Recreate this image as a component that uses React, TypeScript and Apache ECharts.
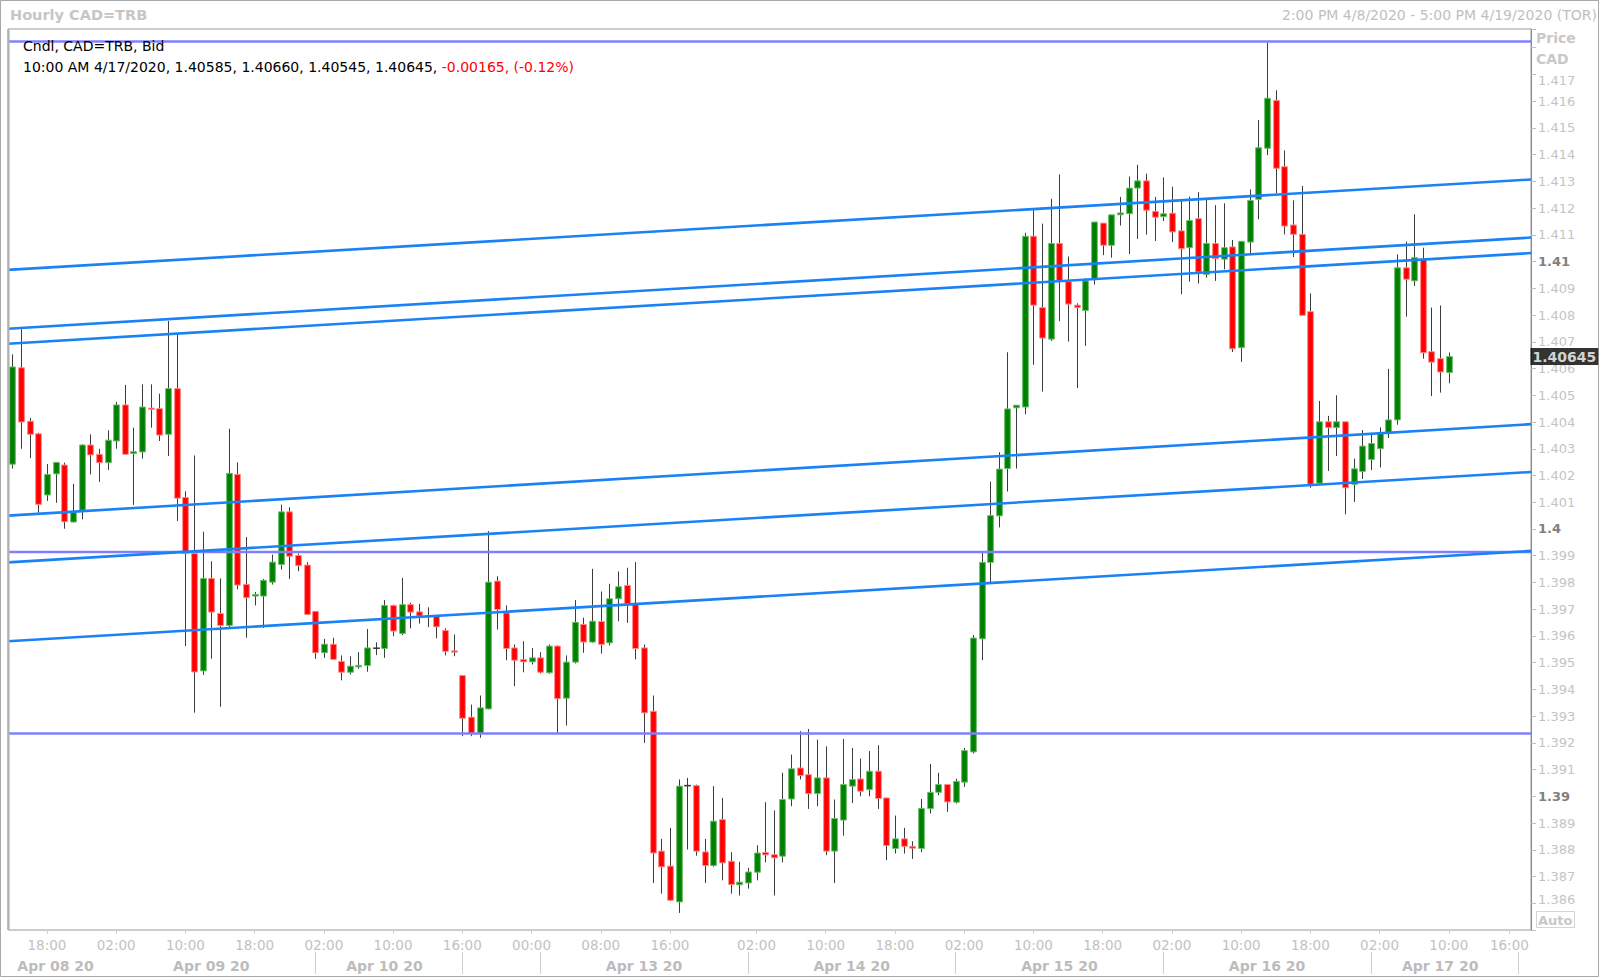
import React, { useEffect, useRef } from 'react';
import * as echarts from 'echarts';

const FONT = '"DejaVu Sans", Verdana, sans-serif';

// ---- candle data (hourly, CAD=TRB bid) ----
const candleOpen = [1.40242,1.40603,1.40403,1.40356,1.40127,1.40206,1.40239,1.40026,1.40070,1.40314,
1.40279,1.40248,1.40329,1.40464,1.40282,1.40288,1.40452,1.40450,1.40354,1.40525,
1.40118,1.39908,1.39469,1.39815,1.39684,1.39639,1.40204,1.39793,1.39749,1.39749,
1.39801,1.39867,1.40064,1.39901,1.39865,1.39692,1.39537,1.39569,1.39505,1.39464,
1.39484,1.39489,1.39554,1.39553,1.39714,1.39609,1.39717,1.39690,1.39676,1.39674,
1.39620,1.39544,1.39452,1.39296,1.39235,1.39327,1.39805,1.39686,1.39555,1.39512,
1.39503,1.39518,1.39462,1.39562,1.39367,1.39502,1.39643,1.39577,1.39654,1.39574,
1.39739,1.39789,1.39721,1.39555,1.39318,1.38795,1.38739,1.38605,1.39040,1.39040,
1.38792,1.38741,1.38913,1.38757,1.38669,1.38676,1.38716,1.38790,1.38782,1.38776,
1.38990,1.39106,1.39081,1.39010,1.39069,1.38795,1.38911,1.39038,1.39065,1.39025,
1.39094,1.38994,1.38805,1.38841,1.38813,1.38805,1.38954,1.39015,1.39044,1.38978,
1.39053,1.39166,1.39589,1.39875,1.40049,1.40226,1.40453,1.40456,1.41095,1.40828,
1.40710,1.41068,1.40925,1.40837,1.40817,1.40934,1.41144,1.41061,1.41175,1.41179,
1.41275,1.41302,1.41188,1.41168,1.41181,1.41115,1.41052,1.41161,1.40952,1.41068,
1.41009,1.41055,1.40678,1.41073,1.41233,1.41424,1.41603,1.41355,1.41137,1.41102,
1.40813,1.40171,1.40401,1.40379,1.40401,1.40167,1.40215,1.40260,1.40300,1.40360,
1.40408,1.40977,1.40928,1.41009,1.40663,1.40637,1.40585];

const candleHigh = [1.40653,1.40747,1.40415,1.40360,1.40243,1.40249,1.40248,1.40169,1.40317,1.40354,
1.40300,1.40369,1.40475,1.40539,1.40379,1.40541,1.40541,1.40506,1.40778,1.40728,
1.40141,1.40275,1.39990,1.39879,1.39815,1.40375,1.40249,1.39970,1.39764,1.39813,
1.39904,1.40091,1.40081,1.39908,1.39876,1.39692,1.39589,1.39593,1.39527,1.39524,
1.39539,1.39626,1.39576,1.39734,1.39717,1.39817,1.39724,1.39720,1.39707,1.39674,
1.39628,1.39605,1.39452,1.39343,1.39377,1.39992,1.39823,1.39714,1.39568,1.39580,
1.39555,1.39539,1.39568,1.39564,1.39527,1.39734,1.39668,1.39851,1.39766,1.39795,
1.39841,1.39855,1.39876,1.39568,1.39377,1.38841,1.38882,1.39063,1.39069,1.39044,
1.38841,1.39038,1.38994,1.38791,1.38755,1.38732,1.38817,1.38978,1.38947,1.39088,
1.39156,1.39244,1.39252,1.39212,1.39187,1.38988,1.39215,1.39181,1.39141,1.39169,
1.39191,1.38994,1.38928,1.38882,1.38832,1.38990,1.39121,1.39088,1.39044,1.39066,
1.39181,1.39603,1.39912,1.40177,1.40287,1.40661,1.40463,1.41108,1.41195,1.41142,
1.41235,1.41326,1.41019,1.40844,1.40938,1.41148,1.41144,1.41175,1.41242,1.41318,
1.41362,1.41329,1.41242,1.41315,1.41280,1.41227,1.41243,1.41260,1.41233,1.41211,
1.41218,1.41081,1.41076,1.41270,1.41530,1.41819,1.41641,1.41416,1.41229,1.41283,
1.40881,1.40479,1.40423,1.40500,1.40401,1.40263,1.40370,1.40360,1.40380,1.40599,
1.41027,1.41075,1.41177,1.41052,1.40828,1.40836,1.40660];

const candleLow = [1.40226,1.40300,1.40265,1.40061,1.40105,1.40098,1.40001,1.40024,1.40036,1.40204,
1.40176,1.40221,1.40300,1.40279,1.40090,1.40263,1.40379,1.40329,1.40273,1.40030,
1.39562,1.39313,1.39454,1.39515,1.39335,1.39631,1.39774,1.39593,1.39714,1.39630,
1.39792,1.39848,1.39813,1.39842,1.39680,1.39514,1.39518,1.39512,1.39434,1.39456,
1.39477,1.39466,1.39528,1.39518,1.39599,1.39603,1.39628,1.39646,1.39633,1.39591,
1.39527,1.39524,1.39225,1.39225,1.39219,1.39325,1.39624,1.39509,1.39412,1.39464,
1.39493,1.39459,1.39459,1.39237,1.39265,1.39497,1.39537,1.39574,1.39534,1.39564,
1.39655,1.39649,1.39512,1.39200,1.38676,1.38636,1.38608,1.38564,1.38801,1.38778,
1.38676,1.38736,1.38686,1.38636,1.38629,1.38655,1.38686,1.38753,1.38629,1.38753,
1.38963,1.39063,1.38953,1.38963,1.38780,1.38676,1.38853,1.38975,1.39000,1.39000,
1.38953,1.38761,1.38786,1.38786,1.38766,1.38791,1.38936,1.39004,1.38942,1.38973,
1.39035,1.39160,1.39509,1.39799,1.40006,1.40140,1.40226,1.40429,1.40614,1.40514,
1.40703,1.40777,1.40701,1.40527,1.40685,1.40914,1.41024,1.41015,1.41135,1.41028,
1.41085,1.41101,1.41077,1.41152,1.41073,1.40878,1.40925,1.40918,1.40940,1.40928,
1.40971,1.40662,1.40625,1.41024,1.41158,1.41398,1.41256,1.41102,1.41017,1.40799,
1.40154,1.40167,1.40217,1.40273,1.40055,1.40101,1.40187,1.40220,1.40230,1.40340,
1.40390,1.40794,1.40909,1.40637,1.40497,1.40510,1.40545];

const candleClose = [1.40606,1.40400,1.40354,1.40092,1.40204,1.40249,1.40027,1.40061,1.40314,1.40277,
1.40248,1.40332,1.40464,1.40279,1.40289,1.40456,1.40447,1.40351,1.40525,1.40115,
1.39908,1.39465,1.39815,1.39689,1.39639,1.40208,1.39790,1.39743,1.39755,1.39808,
1.39876,1.40064,1.39898,1.39863,1.39680,1.39537,1.39569,1.39512,1.39464,1.39487,
1.39490,1.39555,1.39554,1.39714,1.39618,1.39717,1.39689,1.39674,1.39671,1.39634,
1.39542,1.39539,1.39292,1.39235,1.39331,1.39801,1.39699,1.39553,1.39509,1.39503,
1.39518,1.39464,1.39562,1.39365,1.39502,1.39651,1.39577,1.39655,1.39568,1.39739,
1.39784,1.39721,1.39553,1.39312,1.38788,1.38736,1.38611,1.39038,1.39040,1.38795,
1.38741,1.38907,1.38751,1.38670,1.38679,1.38717,1.38788,1.38781,1.38770,1.38988,
1.39103,1.39078,1.39010,1.39069,1.38795,1.38917,1.39044,1.39063,1.39019,1.39094,
1.38992,1.38816,1.38841,1.38813,1.38806,1.38955,1.39015,1.39044,1.38979,1.39056,
1.39171,1.39592,1.39875,1.40050,1.40224,1.40449,1.40463,1.41095,1.40837,1.40714,
1.41068,1.40928,1.40841,1.40828,1.40928,1.41148,1.41061,1.41175,1.41182,1.41275,
1.41302,1.41192,1.41166,1.41179,1.41111,1.41048,1.41154,1.40961,1.41068,1.41011,
1.41052,1.40674,1.41076,1.41229,1.41426,1.41611,1.41349,1.41133,1.41102,1.40799,
1.40167,1.40401,1.40379,1.40401,1.40154,1.40225,1.40310,1.40320,1.40360,1.40408,
1.40977,1.40934,1.41015,1.40659,1.40624,1.40587,1.40645];

// ---- time axis ----
const slotCount = 176; // hourly slots on the axis (incl. empty future slots)
const timeTickIndex = [4,12,20,28,36,44,52,60,68,76,86,94,102,110,118,126,134,142,150,158,166,173];
const timeTickText = ['18:00','02:00','10:00','18:00','02:00','10:00','16:00','00:00','08:00','16:00','02:00','10:00','18:00','02:00','10:00','18:00','02:00','10:00','18:00','02:00','10:00','16:00'];
const dateLabelIndex = [5,23,43,73,97,121,145,165];
const dateLabelText = ['Apr 08 20','Apr 09 20','Apr 10 20','Apr 13 20','Apr 14 20','Apr 15 20','Apr 16 20','Apr 17 20'];
const dateSeparatorIndex = [35,52,61,85,109,133,157,174];

// ---- drawn studies ----
const trendStartPrice = [1.40969,1.40749,1.40693,1.40050,1.39875,1.39580];
const trendEndPrice = [1.41307,1.41090,1.41032,1.40392,1.40213,1.39918];
const levelPrice = [1.41823,1.39914,1.39235];

// ---- price axis ----
const yMin = 1.385;
const yMax = 1.4187;
const yStep = 0.001;
const yLabelLow = 1.386;
const yLabelHigh = 1.417;
const boldPriceLabels = ['1.41','1.4','1.39'];

const lastTimeText = '10:00 AM 4/17/2020';
const lastChangeText = '-0.00165, (-0.12%)';

const slotIds = Array.from({ length: slotCount }, (_, i) => 's' + i);
const timeLabelMap: Record<number, string> = {};
timeTickIndex.forEach((idx, k) => { timeLabelMap[idx] = timeTickText[k]; });
const dateLabelMap: Record<number, string> = {};
dateLabelIndex.forEach((idx, k) => { dateLabelMap[idx] = dateLabelText[k]; });
const sepSet = new Set(dateSeparatorIndex);

export default function App() {
  const ref = useRef<HTMLDivElement>(null);
  useEffect(() => {
    if (!ref.current) return;
    const chart = echarts.init(ref.current, undefined, { renderer: 'svg' });
    const n = candleOpen.length;
    const candleData = candleOpen.map((o, i) => [i, o, candleClose[i], candleLow[i], candleHigh[i]]);
    const last = n - 1;
    const infoLine = `${lastTimeText}, ${candleOpen[last].toFixed(5)}, ${candleHigh[last].toFixed(5)}, ${candleLow[last].toFixed(5)}, ${candleClose[last].toFixed(5)}, `;

    const trendSeries = trendStartPrice.map((p, k) => ({
      type: 'line',
      xAxisIndex: 1,
      yAxisIndex: 0,
      data: [[-0.5, p], [slotCount - 0.5, trendEndPrice[k]]],
      symbol: 'none',
      silent: true,
      lineStyle: { color: '#1982f6', width: 2.6 },
      z: 4,
    }));
    const levelSeries: any[] = levelPrice.map((p) => ({
      type: 'line',
      xAxisIndex: 1,
      yAxisIndex: 0,
      data: [[-0.5, p], [slotCount - 0.5, p]],
      symbol: 'none',
      silent: true,
      lineStyle: { color: '#8080ff', width: 2.6 },
      z: 4,
    }));

    // last-close price tag: a point series placed at the last close, label drawn to the right of the plot
    const lastTagSeries = {
      type: 'scatter',
      xAxisIndex: 1,
      yAxisIndex: 0,
      data: [[slotCount - 0.5, candleClose[last]]],
      symbolSize: 1,
      itemStyle: { color: 'rgba(0,0,0,0)' },
      silent: true,
      clip: false,
      z: 10,
      label: {
        show: true, position: 'right', distance: -1,
        formatter: () => candleClose[last].toFixed(5),
        backgroundColor: '#000', color: '#fff', fontWeight: 'bold', fontSize: 14, fontFamily: FONT,
        padding: [2, 2, 1, 2],
      },
    };

    const option: any = {
      animation: false,
      backgroundColor: '#ffffff',
      textStyle: { fontFamily: FONT },
      title: [
        { text: 'Hourly CAD=TRB', left: 10, top: 6, padding: 0,
          textStyle: { fontFamily: FONT, fontSize: 14.5, fontWeight: 'bold', color: '#c6c6c6', lineHeight: 18 } },
        { text: '2:00 PM 4/8/2020 - 5:00 PM 4/19/2020 (TOR)', right: 3, top: 6, padding: 0,
          textStyle: { fontFamily: FONT, fontSize: 14, fontWeight: 'normal', color: '#c0c0c0', lineHeight: 18 } },
        { text: 'Cndl, CAD=TRB, Bid', left: 23, top: 37, padding: 0,
          textStyle: { fontFamily: FONT, fontSize: 14, fontWeight: 'normal', color: '#000', lineHeight: 18 } },
        { text: `{k|${infoLine}}{r|${lastChangeText}}`, left: 23, top: 58, padding: 0,
          textStyle: { fontFamily: FONT, fontSize: 14, fontWeight: 'normal', lineHeight: 18,
            rich: { k: { color: '#000', fontFamily: FONT, fontSize: 14 }, r: { color: '#ff0000', fontFamily: FONT, fontSize: 14 } } } },
        { text: 'Price', left: 1536, top: 29, padding: 0,
          textStyle: { fontFamily: FONT, fontSize: 14, fontWeight: 'bold', color: '#c8c8c8', lineHeight: 18 } },
        { text: 'CAD', left: 1536, top: 50, padding: 0,
          textStyle: { fontFamily: FONT, fontSize: 14, fontWeight: 'bold', color: '#c8c8c8', lineHeight: 18 } },
        { text: 'Auto', left: 1536, top: 911, padding: [1, 2, 0, 2], borderColor: '#d4d4d4', borderWidth: 1,
          textStyle: { fontFamily: FONT, fontSize: 13, fontWeight: 'bold', color: '#c8c8c8', lineHeight: 16 } },
      ],
      graphic: [
        { type: 'rect', shape: { x: 0.5, y: 0.5, width: 1598, height: 976 }, style: { fill: 'none', stroke: '#a8a8a8', lineWidth: 1 }, silent: true, z: -10 },
        { type: 'line', shape: { x1: 8.5, y1: 29, x2: 8.5, y2: 930 }, style: { stroke: '#b0b0b0', lineWidth: 2 }, silent: true, z: 20 },
      ],
      grid: { left: 8, right: 69, top: 29, bottom: 48, show: true, borderColor: '#9a9a9a', borderWidth: 1 },
      xAxis: [
        {
          type: 'category', data: slotIds, boundaryGap: true, position: 'bottom',
          axisLine: { show: false, onZero: false },
          axisTick: { show: true, alignWithLabel: true, length: 4, interval: (i: number) => timeLabelMap[i] !== undefined, lineStyle: { color: '#d0d0d0' } },
          axisLabel: { interval: (i: number) => timeLabelMap[i] !== undefined, formatter: (_v: string, i: number) => timeLabelMap[i] ?? '',
            color: '#c2c2c2', fontSize: 13.5, fontFamily: FONT, margin: 8 },
          splitLine: { show: false },
        },
        { type: 'value', min: -0.5, max: slotCount - 0.5, show: false, axisLine: { onZero: false } },
        {
          type: 'category', data: slotIds, boundaryGap: true, position: 'bottom', offset: 22,
          axisLine: { show: false, onZero: false },
          axisTick: { show: true, alignWithLabel: true, length: 22, interval: (i: number) => sepSet.has(i), lineStyle: { color: '#d0d0d0' } },
          axisLabel: { interval: (i: number) => dateLabelMap[i] !== undefined, formatter: (_v: string, i: number) => dateLabelMap[i] ?? '',
            color: '#bcbcbc', fontSize: 14, fontWeight: 'bold', fontFamily: FONT, margin: 7 },
          splitLine: { show: false },
        },
      ],
      yAxis: [{
        type: 'value', position: 'right', min: yMin, max: yMax, interval: yStep,
        axisLine: { show: true, onZero: false, lineStyle: { color: '#8a8a8a', width: 1 } },
        axisTick: { show: true, length: 5, lineStyle: { color: '#bdbdbd' } },
        splitLine: { show: false },
        axisLabel: {
          margin: 7, fontSize: 13, color: '#c4c4c4', fontFamily: FONT,
          formatter: (v: number) => {
            if (v < yLabelLow - 1e-7 || v > yLabelHigh + 1e-7) return '';
            const s = String(parseFloat(v.toFixed(3)));
            if (Math.abs(v - yLabelHigh) < 1e-7) return `{t|${s}}`;
            if (Math.abs(v - yLabelLow) < 1e-7) return `{l|${s}}`;
            return boldPriceLabels.includes(s) ? `{b|${s}}` : s;
          },
          rich: {
            b: { fontWeight: 'bold', color: '#808080', fontSize: 13, fontFamily: FONT },
            t: { color: '#c4c4c4', fontSize: 13, fontFamily: FONT, padding: [12, 0, 0, 0] },
            l: { color: '#c4c4c4', fontSize: 13, fontFamily: FONT, padding: [0, 0, 7, 0] },
          },
        },
      }],
      series: [
        {
          type: 'custom',
          xAxisIndex: 1,
          yAxisIndex: 0,
          data: candleData,
          encode: { x: 0, y: [1, 2, 3, 4] },
          clip: true,
          silent: true,
          z: 2,
          renderItem: (_params: any, api: any) => {
            const x = api.value(0);
            const o = api.value(1), c = api.value(2), l = api.value(3), h = api.value(4);
            const pO = api.coord([x, o]);
            const pC = api.coord([x, c]);
            const pL = api.coord([x, l]);
            const pH = api.coord([x, h]);
            const w = api.size([1, 0])[0] * 0.66;
            const cx = Math.round(pO[0]) + 0.5;
            const top = Math.min(pO[1], pC[1]);
            const bot = Math.max(pO[1], pC[1]);
            const children: any[] = [
              { type: 'line', shape: { x1: cx, y1: pH[1], x2: cx, y2: pL[1] }, style: { stroke: '#3c3c3c', lineWidth: 1 } },
            ];
            if (o === c) {
              children.push({ type: 'line', shape: { x1: cx - w / 2 - 0.5, y1: pO[1], x2: cx + w / 2 + 0.5, y2: pO[1] }, style: { stroke: '#333', lineWidth: 1.5 } });
            } else {
              const up = c > o;
              children.push({
                type: 'rect',
                shape: { x: cx - w / 2, y: top, width: w, height: Math.max(bot - top, 1) },
                style: { fill: up ? '#008000' : '#ff0000', stroke: up ? '#6cbf6c' : '#ff8a8a', lineWidth: 1 },
              });
            }
            return { type: 'group', children };
          },
        },
        ...levelSeries,
        ...trendSeries,
        lastTagSeries,
      ],
    };
    chart.setOption(option);
    return () => { chart.dispose(); };
  }, []);
  return <div ref={ref} style={{ position: 'fixed', left: 0, top: 0, width: 1600, height: 978, background: '#fff' }} />;
}
